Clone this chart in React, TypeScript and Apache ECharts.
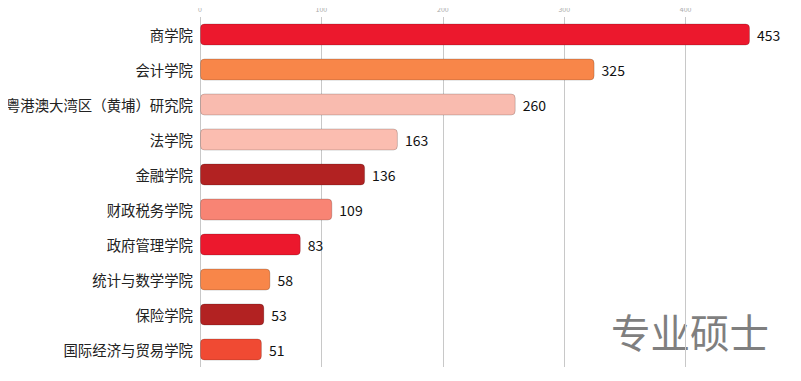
import React, { useEffect, useRef } from "react";
import * as echarts from "echarts";

const categories = [
  "商学院",
  "会计学院",
  "粤港澳大湾区（黄埔）研究院",
  "法学院",
  "金融学院",
  "财政税务学院",
  "政府管理学院",
  "统计与数学学院",
  "保险学院",
  "国际经济与贸易学院",
];
const values = [453, 325, 260, 163, 136, 109, 83, 58, 53, 51];
const colors = [
  "#ec182d",
  "#f88649",
  "#f9bbaf",
  "#fbbdb0",
  "#b22222",
  "#f88474",
  "#ec182d",
  "#f88649",
  "#b22222",
  "#f04a33",
];
const title = "专业硕士";

export default function App() {
  const ref = useRef<HTMLDivElement>(null);
  useEffect(() => {
    const chart = echarts.init(ref.current!, null, { renderer: "svg" });
    const font = "'Noto Sans CJK SC', 'Noto Sans', sans-serif";
    chart.setOption({
      animation: false,
      textStyle: { fontFamily: font },
      grid: { left: 200, right: 51, top: 17, bottom: 14, containLabel: false },
      xAxis: {
        type: "value",
        position: "top",
        offset: 1,
        min: 0,
        max: "dataMax",
        interval: 100,
        axisLine: { show: false },
        axisTick: { show: false },
        axisLabel: { color: "#aaa", fontSize: 7, margin: 4, showMaxLabel: false },
        splitLine: {
          show: true,
          showMaxLine: false,
          lineStyle: { color: "#c8c8c8", width: 1 },
        },
      },
      yAxis: {
        type: "category",
        inverse: true,
        data: categories,
        axisLine: { show: false },
        axisTick: { show: false },
        axisLabel: { color: "#222", fontSize: 14.4, margin: 7, fontFamily: font },
      },
      series: [
        {
          type: "bar",
          barWidth: 22,
          data: values.map((v, i) => ({
            value: v,
            itemStyle: { color: colors[i] },
          })),
          itemStyle: {
            borderRadius: 4,
            borderColor: "rgba(0,0,0,0.18)",
            borderWidth: 1,
          },
          label: {
            show: true,
            position: "right",
            distance: 7,
            color: "#111",
            fontSize: 14,
            fontFamily: font,
          },
        },
      ],
      graphic: [
        {
          type: "text",
          left: 611,
          top: 311,
          style: {
            text: title,
            fontSize: 39.5,
            fill: "#7f7f7f",
            fontFamily: font,
          },
        },
      ],
    });
    return () => chart.dispose();
  }, []);
  return <div ref={ref} style={{ width: 801, height: 381, margin: -8 }} />;
}
